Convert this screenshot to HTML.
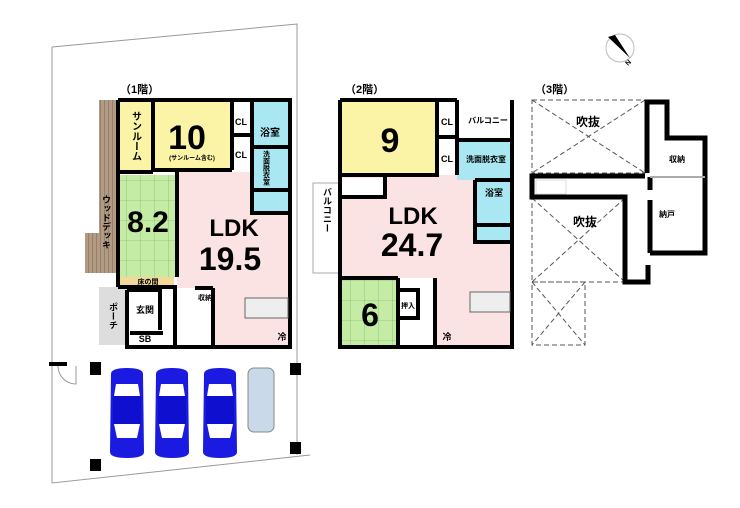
<!DOCTYPE html>
<html><head><meta charset="utf-8"><style>
body{margin:0;background:#fff}
svg{display:block}
text{font-family:"Liberation Sans","Noto Sans CJK JP",sans-serif;font-weight:bold;fill:#000}
</style></head><body>
<svg width="740" height="508" viewBox="0 0 740 508" xmlns="http://www.w3.org/2000/svg">
<defs>
<pattern id="deck" width="4" height="4" patternUnits="userSpaceOnUse"><rect width="4" height="4" fill="#b39a84"/><rect width="1" height="4" fill="#96806c"/></pattern>
<pattern id="tat" width="14" height="20" patternUnits="userSpaceOnUse"><rect width="14" height="20" fill="#c4eca4"/><path d="M0 0H14M0 0V20" stroke="#6fa85a" stroke-width="0.6"/></pattern>
<g id="car"><path d="M-16 -40 Q-16 -46 0 -46 Q16 -46 16 -40 L17 38 Q17 44 0 44 Q-17 44 -17 38 Z" fill="#1a1ae0"/>
<path d="M-11 -30 H11 L13 -18 H-13Z M-13 10 H13 L10 24 H-10Z" fill="#fff"/><rect x="-14" y="-18" width="28" height="28" fill="#0f0fd0"/></g>
</defs>
<path d="M52 47 L297 24 L297 455 M52 47 L52 483 L310 455" fill="none" stroke="#999" stroke-width="1"/>
<text x="120" y="93" font-size="11">（1階）</text>
<text x="345" y="93" font-size="11">（2階）</text>
<text x="535" y="93" font-size="11">（3階）</text>
<circle cx="620" cy="48" r="14" fill="#fff" stroke="#bbb"/>
<path d="M608 37 L615 35 L630 58 Z" fill="#000"/>
<text x="628" y="66" font-size="7" transform="rotate(-45 628 66)">N</text>

<!-- FLOOR 1 -->
<rect x="99" y="100" width="18" height="135" fill="url(#deck)"/>
<rect x="85" y="233" width="32" height="40" fill="url(#deck)"/>
<rect x="99" y="287" width="28" height="58" fill="#ddd"/>
<rect x="118" y="100" width="35" height="72" fill="#fbf3a6"/>
<rect x="153" y="100" width="79" height="70" fill="#fbf3a6"/>
<rect x="252" y="100" width="36" height="113" fill="#a9e8f2"/>
<rect x="118" y="175" width="59" height="102" fill="url(#tat)"/>
<rect x="120" y="277" width="54" height="9" fill="#f3d89a"/>
<path d="M177 172 H252 V213 H290 V347 H213 V288 H177 Z" fill="#fbe3e3"/>
<g fill="none" stroke="#000" stroke-width="4">
<path d="M118 100 H290 V347 H127 V290 M118 100 V287"/>
<path d="M153 100 V170 M118 172 H153 M153 170 H232 M232 100 V170 M232 135 H252 M252 100 V213 H290 M252 147 H290 M252 190 H290"/>
<path d="M177 172 V277 M118 287 H177 M127 290 H160 V330 M130 333 H163 M175 288 V347 M213 288 V347 M195 288 H213"/>
</g>
<rect x="245" y="298" width="43" height="20" fill="#eee" stroke="#666"/>
<text x="135" y="136" font-size="10" text-anchor="middle" style="writing-mode:tb">サンルーム</text>
<text x="187" y="149" font-size="34" text-anchor="middle">10</text>
<text x="192" y="160" font-size="6" text-anchor="middle">(サンルーム含む)</text>
<text x="241" y="125" font-size="9" text-anchor="middle">CL</text>
<text x="241" y="158" font-size="9" text-anchor="middle">CL</text>
<text x="270" y="136" font-size="10" text-anchor="middle">浴室</text>
<text x="266" y="168" font-size="7" text-anchor="middle" style="writing-mode:tb">洗面脱衣室</text>
<text x="148" y="232" font-size="30" text-anchor="middle">8.2</text>
<text x="148" y="284" font-size="7" text-anchor="middle">床の間</text>
<text x="106" y="222" font-size="9" text-anchor="middle" style="writing-mode:tb">ウッドデッキ</text>
<text x="234" y="236" font-size="24" text-anchor="middle">LDK</text>
<text x="230" y="270" font-size="32" text-anchor="middle">19.5</text>
<text x="145" y="313" font-size="9" text-anchor="middle">玄関</text>
<text x="113" y="316" font-size="9" text-anchor="middle" style="writing-mode:tb">ポーチ</text>
<text x="145" y="342" font-size="9" text-anchor="middle">SB</text>
<text x="205" y="300" font-size="7" text-anchor="middle">収納</text>
<text x="282" y="340" font-size="9" text-anchor="middle">冷</text>

<g fill="#000"><rect x="90" y="362" width="11" height="13"/><rect x="290" y="363" width="11" height="12"/><rect x="290" y="442" width="11" height="12"/><rect x="90" y="459" width="11" height="12"/><rect x="49" y="362" width="18" height="4"/></g>
<path d="M58 366 A18 18 0 0 0 76 384 V366" fill="none" stroke="#999"/>
<use href="#car" x="127" y="414"/><use href="#car" x="172" y="414"/><use href="#car" x="220" y="414"/>
<rect x="248" y="368" width="26" height="64" rx="6" fill="#c9d9ea" stroke="#888"/>

<!-- FLOOR 2 -->
<rect x="313" y="183" width="27" height="90" fill="#fff" stroke="#aaa"/>
<text x="327" y="210" font-size="9" text-anchor="middle" style="writing-mode:tb">バルコニー</text>
<rect x="340" y="100" width="97" height="75" fill="#fbf3a6"/>
<rect x="340" y="175" width="172" height="170" fill="#fbe3e3"/>
<rect x="457" y="140" width="55" height="40" fill="#a9e8f2"/>
<rect x="475" y="180" width="37" height="62" fill="#a9e8f2"/>
<rect x="340" y="278" width="58" height="67" fill="url(#tat)"/>
<rect x="342" y="178" width="43" height="19" fill="#fff"/>
<rect x="398" y="278" width="37" height="67" fill="#fff"/>
<g fill="none" stroke="#000" stroke-width="4">
<path d="M340 100 H457 M512 100 V347 H340 V100 M437 100 V175 H340 M457 100 V175 M437 137 H457 M457 140 H512 M475 180 H512 M475 180 V242 H512 M475 225 H512"/>
<path d="M385 175 V197 H342 M398 278 V347 M340 278 H398 M398 290 H418 V318 H398 M435 278 V347"/>
</g>
<rect x="470" y="292" width="40" height="20" fill="#eee" stroke="#666"/>
<text x="390" y="152" font-size="34" text-anchor="middle">9</text>
<text x="447" y="125" font-size="9" text-anchor="middle">CL</text>
<text x="447" y="162" font-size="9" text-anchor="middle">CL</text>
<text x="488" y="123" font-size="8" text-anchor="middle">バルコニー</text>
<text x="486" y="162" font-size="8" text-anchor="middle">洗面脱衣室</text>
<text x="494" y="196" font-size="9" text-anchor="middle">浴室</text>
<text x="413" y="224" font-size="24" text-anchor="middle">LDK</text>
<text x="412" y="256" font-size="32" text-anchor="middle">24.7</text>
<text x="370" y="326" font-size="32" text-anchor="middle">6</text>
<text x="408" y="308" font-size="7" text-anchor="middle">押入</text>
<text x="447" y="340" font-size="9" text-anchor="middle">冷</text>

<!-- FLOOR 3 -->
<g fill="none" stroke="#555" stroke-dasharray="5,3" stroke-width="1">
<rect x="532" y="100" width="113" height="73"/><path d="M532 100 L645 173 M645 100 L532 173"/>
<rect x="532" y="198" width="93" height="84"/><path d="M532 198 L625 282 M625 198 L532 282"/>
<rect x="532" y="282" width="53" height="63"/><path d="M532 282 L585 345 M585 282 L532 345"/>
</g>
<g fill="none" stroke="#000" stroke-width="5">
<path d="M647 173 V102 H667 V138 H705 V253 H650 M650 253 V200 M650 177 V190"/>
<path d="M645 176 H532 V197 H625 V282 H648 V265"/>
</g>
<path d="M650 177 H705" stroke="#aaa" stroke-width="2"/>
<rect x="536" y="180" width="30" height="14" fill="#fff" stroke="#bbb" stroke-width="0.5"/>
<text x="588" y="126" font-size="12" text-anchor="middle">吹抜</text>
<text x="585" y="226" font-size="12" text-anchor="middle">吹抜</text>
<text x="677" y="162" font-size="8" text-anchor="middle">収納</text>
<text x="667" y="217" font-size="8" text-anchor="middle">納戸</text>
</svg>
</body></html>
